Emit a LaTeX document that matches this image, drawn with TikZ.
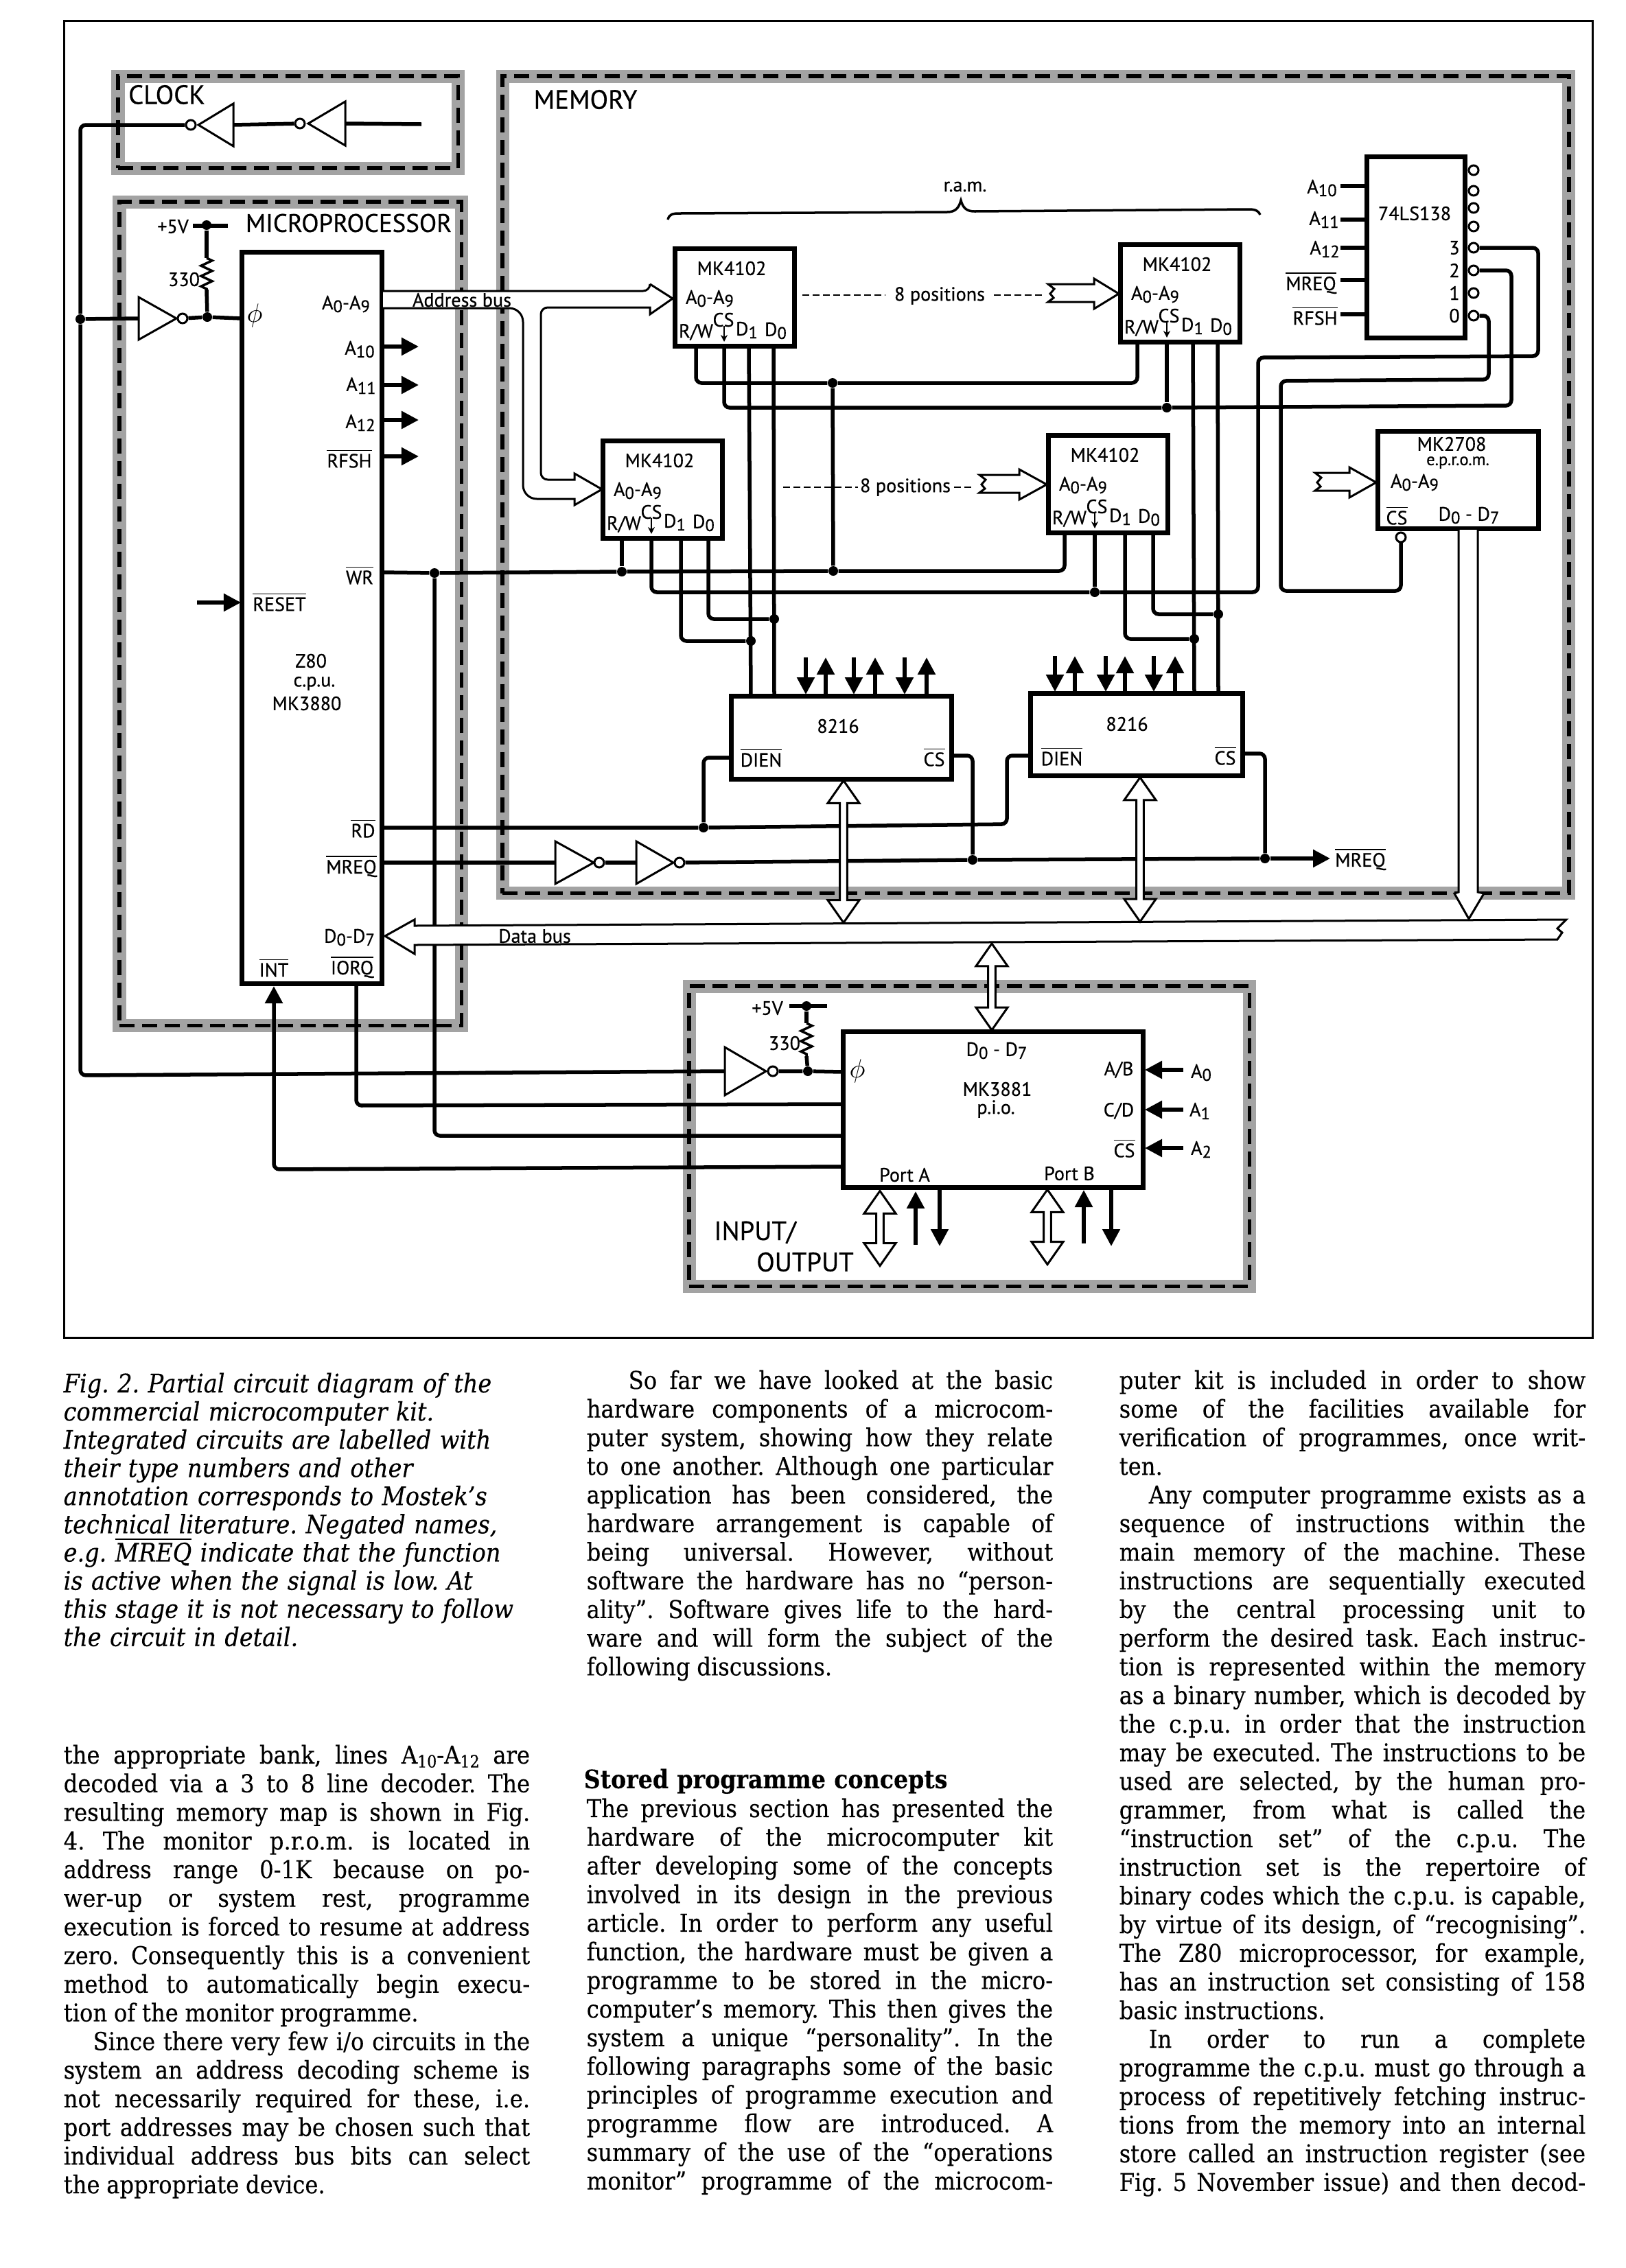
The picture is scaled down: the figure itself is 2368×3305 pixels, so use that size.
\documentclass[tikz,border=0pt]{standalone}
\usepackage{fontspec}
\setmainfont[FakeBold=0.25]{DejaVu Serif Condensed}
\setsansfont[FakeBold=0.5]{PT Sans}
\usetikzlibrary{shapes,arrows.meta,positioning,calc,decorations.pathmorphing}

\newcommand{\lo}[1]{\raisebox{-0.3ex}{\fontsize{7}{8}\selectfont #1}}
\newcommand{\nbar}[1]{$\overline{\mbox{#1}}$}
\newcommand{\jl}[1]{\hbox to 6.79cm{\spaceskip=0.27em plus 1.5em minus 0.1em\relax #1}}

\begin{document}
\begin{tikzpicture}[
  x=0.01cm, y=-0.01cm,
  region/.style={draw, outer sep=0, line width=0.055cm, dash pattern=on 0.22cm off 0.11cm,
                 preaction={draw=black!36, line width=0.19cm, solid}},
  wire/.style={line width=0.055cm, rounded corners=0.08cm},
  sig/.style={wire, -{Triangle[length=0.25cm,width=0.25cm]}},
  thin wire/.style={line width=0.03cm, rounded corners=0.08cm},
  chip/.style={rectangle, draw, outer sep=0, line width=0.07cm, fill=white, inner sep=0, anchor=north west},
  lab/.style={font=\sffamily\fontsize{8}{9}\selectfont, inner sep=0, align=center},
  big/.style={font=\sffamily\fontsize{11}{12}\selectfont, inner sep=0},
  bubble/.style={circle, draw, line width=0.03cm, fill=white, minimum size=0.14cm, inner sep=0},
  dot/.style={circle, fill, minimum size=0.14cm, inner sep=0},
  busarrow/.style={double arrow, draw, fill=white, line width=0.03cm, inner sep=0,
                   minimum width=0.46cm, double arrow head extend=0.05cm,
                   double arrow tip angle=70, shape border rotate=90},
  hollow/.style={draw, fill=white, line width=0.03cm},
  col/.style={anchor=north west, inner sep=0, text width=6.79cm,
              font=\frenchspacing\fontsize{10.2}{11.87}\selectfont},
  capt/.style={col, font=\frenchspacing\itshape\fontsize{10.6}{11.68}\selectfont}
]
  \useasboundingbox (0,0) rectangle (2368,3305);
  \node[draw, outer sep=0, line width=0.03cm, minimum width=22.26cm, minimum height=19.18cm, anchor=north west] (frame) at (93,30) {};

  % dashed regions
  \node[region, minimum width=4.95cm, minimum height=1.34cm, anchor=north west] (rclock) at (172,111) {};
  \node[region, minimum width=4.98cm, minimum height=12.0cm, anchor=north west] (rcpu) at (174,294) {};
  \node[region, minimum width=15.53cm, minimum height=11.9cm, anchor=north west] (rmem) at (732,111) {};
  \node[region, minimum width=8.16cm, minimum height=4.37cm, anchor=north west] (rio) at (1004,1437) {};

  \node[big] (tclock) at (243,138) {CLOCK};
  \node[big] (tmem) at (853,145) {MEMORY};
  \node[big, font=\sffamily\fontsize{10.5}{12}\selectfont] (tcpu) at (508,325) {MICROPROCESSOR};
  \node[big] (tin) at (1100,1796) {INPUT/};
  \node[big] (tout) at (1173,1839) {OUTPUT};

  % inverters
  \foreach \n/\bx/\tx/\y/\h/\cx in {clka/340/289/182/31/278, clkb/503/449/180/32/437,
      cpui/202/257/464/31/266, mqa/809/865/1257/31/873, mqb/927/981/1257/31/990, pioi/1056/1116/1561/35/1126} {
    \draw[thin wire, sharp corners] (\bx,\y-\h) -- (\tx,\y) -- (\bx,\y+\h) -- cycle;
    \coordinate (\n b) at (\bx,\y);
    \node[bubble] (\n) at (\cx,\y) {};
  }

  % chips
  \node[chip, minimum width=2.04cm, minimum height=10.66cm] (z80) at (352,367) {};
  \foreach \n/\x/\y/\pa/\pb/\pc/\pd in {1/983/362/31/72/108/144, 2/1632/356/25/68/106/142,
      3/878/642/28/71/114/154, 4/1527/634/24/68/112/153} {
    \node[chip, minimum width=1.74cm, minimum height=1.42cm] (ram\n) at (\x,\y) {};
    \node[lab] (ram\n name) at (\x+83,\y+29) {MK4102};
    \node[lab] (ram\n addr) at (\x+51,\y+73) {A\lo{0}-A\lo{9}};
    \node[lab] (ram\n wr) at (\x+31,\y+122) {R/W};
    \node[lab] (ram\n sel) at (\x+71,\y+104) {CS};
    \node[lab] (ram\n da) at (\x+105,\y+119) {D\lo{1}};
    \node[lab] (ram\n db) at (\x+147,\y+120) {D\lo{0}};
    \coordinate (ram\n rw) at (\x+\pa,\y+142);
    \coordinate (ram\n cs) at (\x+\pb,\y+142);
    \coordinate (ram\n do) at (\x+\pc,\y+142);
    \coordinate (ram\n dz) at (\x+\pd,\y+142);
    \draw[line width=0.025cm, -{Stealth[length=0.1cm,width=0.1cm]}] (\x+\pb,\y+113) -- (\x+\pb,\y+136);
  }
  \node[chip, minimum width=1.43cm, minimum height=2.64cm] (dec) at (1991,228) {};
  \node[chip, minimum width=2.34cm, minimum height=1.42cm] (prom) at (2007,628) {};
  \node[chip, minimum width=3.21cm, minimum height=1.21cm] (bufa) at (1065,1014) {};
  \node[chip, minimum width=3.09cm, minimum height=1.2cm] (bufb) at (1501,1010) {};
  \node[chip, minimum width=4.37cm, minimum height=2.27cm] (pio) at (1228,1503) {};

  % decoder outputs
  \foreach \n/\y in {h/248, g/278, f/303, e/330, 3/361, 2/394, 1/427, 0/460} {
    \node[bubble] (dec\n) at (2147,\y) {};
  }
  \foreach \n/\y in {3/361, 2/394, 1/427, 0/460} {
    \node[lab] (dec\n t) at (2119,\y) {\n};
  }

  % junctions
  \foreach \n/\x/\y in {jphi/117/465, jcpu/302/462, jfive/301/328, jwr/633/835, jwa/906/833, jra/1213/558, jrb/1214/832,
      jca/1700/594, jcb/1595/863, jda/1094/934, jdb/1128/902, jdc/1740/931, jdd/1775/895,
      jrd/1025/1206, jma/1417/1253, jmb/1843/1251, jpio/1177/1561, jfivb/1175/1466} {
    \node[dot] (\n) at (\x,\y) {};
  }

  % clock and phi lines
  \coordinate (clkin) at (614,181);
  \coordinate (piophi) at (1228,1562);
  \coordinate (cpuphi) at (352,464);
  \draw[wire] (clkin) -- (clkbb);
  \draw[wire] (clkb) -- (clkab);
  \draw[wire] (clka) -- (117,182) -- (jphi) -- (117,1567) -- (pioib);
  \draw[wire] (jphi) -- (cpuib);
  \draw[wire] (cpui) -- (jcpu) -- (cpuphi);
  \draw[wire] (pioi) -- (jpio) -- (piophi);

  % pull-up resistors
  \coordinate (fivea) at (281,329); \coordinate (fiveb) at (332,329);
  \coordinate (fivec) at (1150,1466); \coordinate (fived) at (1205,1466);
  \draw[wire] (fivea) -- (fiveb);
  \draw[wire] (fivec) -- (fived);
  \draw[wire] (jfive) -- (301,376);
  \draw[line width=0.035cm, decorate, decoration={zigzag, amplitude=0.08cm, segment length=0.15cm}] (301,376) -- (301,422);
  \draw[wire] (301,422) -- (jcpu);
  \draw[wire] (jfivb) -- (1175,1491);
  \draw[line width=0.035cm, decorate, decoration={zigzag, amplitude=0.08cm, segment length=0.15cm}] (1175,1491) -- (1175,1539);
  \draw[wire] (1175,1539) -- (jpio);

  % read, write and select lines
  \coordinate (cpuwr) at (556,834);
  \coordinate (piowr) at (1228,1655);
  \draw[wire] (cpuwr) -- (jwr) -- (jwa) -- (jrb) -| (ram4rw);
  \draw[wire] (jwr) |- (piowr);
  \draw[wire] (ram3rw) -- (jwa);
  \draw[wire] (jra) -- (jrb);
  \draw[wire] (ram1rw) |- (jra);
  \draw[wire] (jra) -| (ram2rw);
  \draw[wire] (ram1cs) |- (jca);
  \draw[wire] (ram2cs) -- (jca);
  \draw[wire] (jca) -- (2202,591) -- (2202,394) -- (dec2);
  \draw[wire] (ram3cs) |- (jcb);
  \draw[wire] (ram4cs) -- (jcb);
  \draw[wire] (jcb) -- (1833,863) -- (1833,521) -- (2241,519) -- (2241,361) -- (dec3);
  \draw[wire] (dec0) -- (2169,460) -- (2169,553) -- (1866,555) -- (1866,861) -- (2041,861) -- (2041,790);
  \node[bubble] (promcs) at (2041,783) {};

  % data lines
  \coordinate (bufad) at (1094,1014); \coordinate (bufaz) at (1128,1014);
  \coordinate (bufbd) at (1740,1010); \coordinate (bufbz) at (1775,1010);
  \draw[wire] (ram1do) -- (bufad);
  \draw[wire] (ram1dz) -- (bufaz);
  \draw[wire] (ram2do) -- (bufbd);
  \draw[wire] (ram2dz) -- (bufbz);
  \draw[wire] (ram3do) |- (jda);
  \draw[wire] (ram3dz) |- (jdb);
  \draw[wire] (ram4do) |- (jdc);
  \draw[wire] (ram4dz) |- (jdd);

  % buffer controls
  \coordinate (cpurd) at (556,1206); \coordinate (cpumq) at (556,1257);
  \coordinate (bufadien) at (1065,1104); \coordinate (bufbdien) at (1501,1101);
  \coordinate (bufacs) at (1386,1101); \coordinate (bufbcs) at (1810,1098);
  \coordinate (mqout) at (1938,1251);
  \draw[wire] (cpurd) -- (jrd) -- (1467,1201) -- (1467,1101) -- (bufbdien);
  \draw[wire] (jrd) |- (bufadien);
  \draw[wire] (cpumq) -- (mqab);
  \draw[wire] (mqa) -- (mqbb);
  \draw[wire] (mqb) -- (jma) -- (jmb);
  \draw[sig] (jmb) -- (mqout);
  \draw[wire] (bufacs) -| (jma);
  \draw[wire] (bufbcs) -| (jmb);

  % z80 outputs, reset and interrupt
  \foreach \n/\y in {aa/505, ab/561, ac/612, rf/665} {
    \coordinate (cpu\n) at (556,\y);
    \coordinate (out\n) at (610,\y);
    \draw[sig] (cpu\n) -- (out\n);
  }
  \coordinate (rstin) at (287,878); \coordinate (rstz) at (351,878);
  \draw[sig] (rstin) -- (rstz);
  \coordinate (intz) at (399,1437); \coordinate (pioint) at (1228,1700);
  \coordinate (iorqz) at (519,1433); \coordinate (pioiorq) at (1228,1609);
  \draw[sig, rounded corners=0.08cm] (pioint) -- (399,1704) -- (intz);
  \draw[wire] (iorqz) -- (519,1611) -- (pioiorq);

  % decoder inputs
  \foreach \n/\y in {a/271, b/320, c/361, d/408, e/458} {
    \coordinate (dec\n in) at (1953,\y);
    \coordinate (dec\n p) at (1991,\y);
    \draw[wire] (dec\n in) -- (dec\n p);
  }

  % pio address inputs and ports
  \foreach \n/\y in {a/1559, b/1617, c/1673} {
    \coordinate (pio\n in) at (1724,\y);
    \coordinate (pio\n p) at (1668,\y);
    \draw[sig] (pio\n in) -- (pio\n p);
  }
  \foreach \n/\x/\ya/\yb in {pau/1334/1814/1736, pad/1369/1732/1816, pbu/1579/1812/1734, pbd/1619/1732/1816} {
    \coordinate (\n s) at (\x,\ya); \coordinate (\n e) at (\x,\yb);
    \draw[sig] (\n s) -- (\n e);
  }

  % buffer data arrows
  \foreach \n/\x/\ya/\yb in {ua/1174/958/1012, ub/1244/958/1012, uc/1318/958/1012,
      vu/1537/956/1008, vb/1611/956/1008, vc/1681/956/1008} {
    \coordinate (\n s) at (\x,\ya); \coordinate (\n e) at (\x,\yb);
    \draw[sig] (\n s) -- (\n e);
  }
  \foreach \n/\x/\ya/\yb in {wa/1203/1012/958, wb/1275/1012/958, wc/1350/1012/958,
      xa/1566/1008/956, xb/1639/1008/956, xc/1712/1008/956} {
    \coordinate (\n s) at (\x,\ya); \coordinate (\n e) at (\x,\yb);
    \draw[sig] (\n s) -- (\n e);
  }

  % redraw the top edge of the buffers over the wires
  \draw[line width=0.07cm] (bufa.north west) -- (bufa.north east);
  \draw[line width=0.07cm] (bufb.north west) -- (bufb.north east);

  % dashes to the other ram positions
  \draw[line width=0.025cm, dash pattern=on 0.1cm off 0.05cm] (1169,430) -- (1290,430);
  \draw[line width=0.025cm, dash pattern=on 0.1cm off 0.05cm] (1448,430) -- (1518,430);
  \draw[line width=0.025cm, dash pattern=on 0.1cm off 0.05cm] (1141,710) -- (1250,710);
  \draw[line width=0.025cm, dash pattern=on 0.1cm off 0.05cm] (1390,710) -- (1420,710);
  \node[lab, fill=white, inner xsep=1pt] (posa) at (1369,431) {8 positions};
  \node[lab] (posb) at (1319,710) {8 positions};
  \foreach \x/\y/\l/\t in {1527/428/67/103, 1427/706/58/98, 1916/703/50/89} {
    \draw[hollow] (\x,\y-14) -- (\x+\l,\y-14) -- (\x+\l,\y-22) -- (\x+\t,\y) -- (\x+\l,\y+22) -- (\x+\l,\y+12)
      -- (\x,\y+12) -- (\x+8,\y+6) -- (\x+3,\y) -- (\x+9,\y-7) -- cycle;
  }

  % ram bracket
  \draw[line width=0.035cm] (973,320) .. controls (975,312) and (980,311) .. (990,311) -- (1380,309)
    .. controls (1392,309) and (1397,303) .. (1400,292) .. controls (1403,303) and (1408,308) .. (1420,308)
    -- (1820,305) .. controls (1830,305) and (1834,308) .. (1836,313);
  \node[lab] (tram) at (1406,272) {r.a.m.};

  % address bus
  \draw[hollow, rounded corners=0.1cm] (558,424) -- (947,424) [sharp corners] -- (947,414) -- (980,435) -- (947,458) -- (947,448)
    [rounded corners=0.1cm] -- (788,448) -- (788,699) [sharp corners] -- (837,699) -- (837,690) -- (877,713) -- (837,736) -- (837,727)
    [rounded corners=0.2cm] -- (762,727) -- (762,449) [sharp corners] -- (558,449);
  \node[lab] (taddr) at (673,437) {Address bus};

  % data bus
  \draw[hollow] (561,1364) -- (604,1340) -- (604,1349) -- (2282,1340) -- (2269,1353) -- (2276,1359) -- (2269,1369)
    -- (604,1377) -- (604,1390) -- cycle;
  \node[lab] (tdata) at (779,1364) {Data bus};
  \node[busarrow, minimum height=2.07cm] (busa) at (1229,1241) {};
  \node[busarrow, minimum height=2.10cm] (busb) at (1661,1238) {};
  \node[busarrow, minimum height=1.26cm] (busp) at (1445,1438) {};
  \node[busarrow, minimum height=1.09cm] (busq) at (1282,1790) {};
  \node[busarrow, minimum height=1.09cm] (busr) at (1526,1788) {};
  \draw[hollow] (2125,772) -- (2125,1300) -- (2119,1302) -- (2140,1339) -- (2162,1302) -- (2153,1300) -- (2153,772);

  % texts of the cpu
  \node[lab, font=\sffamily\fontsize{11}{12}\selectfont] (phia) at (371,460) {$\phi$};
  \node[lab] (cpua) at (504,443) {A\lo{0}-A\lo{9}};
  \node[lab] (cpub) at (524,509) {A\lo{10}};
  \node[lab] (cpuc) at (526,562) {A\lo{11}};
  \node[lab] (cpud) at (525,616) {A\lo{12}};
  \node[lab] (cpue) at (509,668) {\nbar{RFSH}};
  \node[lab] (cpuf) at (524,838) {\nbar{WR}};
  \node[lab] (cpug) at (407,877) {\nbar{RESET}};
  \node[lab] (cpuh) at (453,963) {Z80};
  \node[lab] (cpuq) at (458,996) {c.p.u.};
  \node[lab] (cpuj) at (447,1025) {MK3880};
  \node[lab] (cpuk) at (529,1207) {\nbar{RD}};
  \node[lab] (cpul) at (512,1262) {\nbar{MREQ}};
  \node[lab] (cpum) at (509,1366) {D\lo{0}-D\lo{7}};
  \node[lab] (cpun) at (399,1410) {\nbar{INT}};
  \node[lab] (cpuo) at (513,1409) {\nbar{IORQ}};
  \node[lab] (fivt) at (252,330) {+5V};
  \node[lab] (ohma) at (268,407) {330};

  % texts of decoder and prom
  \node[lab] (dect) at (2061,311) {74LS138};
  \node[lab] (deca) at (1926,274) {A\lo{10}};
  \node[lab] (decb) at (1929,320) {A\lo{11}};
  \node[lab] (decc) at (1930,363) {A\lo{12}};
  \node[lab] (decd) at (1910,412) {\nbar{MREQ}};
  \node[lab] (dece) at (1916,460) {\nbar{RFSH}};
  \node[lab] (proma) at (2115,647) {MK2708};
  \node[lab, font=\sffamily\fontsize{7}{8}\selectfont] (promb) at (2124,674) {e.p.r.o.m.};
  \node[lab] (promc) at (2061,703) {A\lo{0}-A\lo{9}};
  \node[lab] (promd) at (2035,751) {\nbar{CS}};
  \node[lab] (prome) at (2140,751) {D\lo{0} - D\lo{7}};

  % texts of buffers
  \node[lab] (bufat) at (1221,1058) {8216};
  \node[lab] (bufai) at (1109,1104) {\nbar{DIEN}};
  \node[lab] (bufac) at (1361,1103) {\nbar{CS}};
  \node[lab] (bufbt) at (1642,1055) {8216};
  \node[lab] (bufbi) at (1547,1102) {\nbar{DIEN}};
  \node[lab] (bufbc) at (1785,1101) {\nbar{CS}};
  \node[lab] (tmq) at (1982,1252) {\nbar{MREQ}};

  % texts of the pio
  \node[lab] (pioa) at (1452,1531) {D\lo{0} - D\lo{7}};
  \node[lab] (piot) at (1453,1587) {MK3881};
  \node[lab] (pioc) at (1451,1616) {p.i.o.};
  \node[lab] (piod) at (1630,1559) {A/B};
  \node[lab] (pioe) at (1630,1619) {C/D};
  \node[lab] (piof) at (1638,1673) {\nbar{CS}};
  \node[lab] (piog) at (1558,1710) {Port B};
  \node[lab] (pioh) at (1318,1712) {Port A};
  \node[lab, font=\sffamily\fontsize{11}{12}\selectfont] (phib) at (1249,1561) {$\phi$};
  \node[lab] (pioj) at (1750,1563) {A\lo{0}};
  \node[lab] (piok) at (1748,1619) {A\lo{1}};
  \node[lab] (piol) at (1750,1675) {A\lo{2}};
  \node[lab] (fivu) at (1118,1469) {+5V};
  \node[lab] (ohmb) at (1143,1520) {330};

  % the article around the figure
  \node[capt] (caption) at (92,2000) {%
    Fig. 2. Partial circuit diagram of the\\
    commercial microcomputer kit.\\
    Integrated circuits are labelled with\\
    their type numbers and other\\
    annotation corresponds to Mostek's\\
    technical literature. Negated names,\\
    e.g. \smash{\nbar{MREQ}} indicate that the function\\
    is active when the signal is low. At\\
    this stage it is not necessary to follow\\
    the circuit in detail.};
  \node[col] (colb) at (854,1996) {%
    \jl{\hspace{1.7em}So far we have looked at the basic}
    \jl{hardware components of a microcom-}
    \jl{puter system, showing how they relate}
    \jl{to one another. Although one particular}
    \jl{application has been considered, the}
    \jl{hardware arrangement is capable of}
    \jl{being universal. However, without}
    \jl{software the hardware has no “person-}
    \jl{ality”. Software gives life to the hard-}
    \jl{ware and will form the subject of the}
    \jl{following discussions.\hfil}};
  \node[col] (colc) at (1630,1996) {%
    \jl{puter kit is included in order to show}
    \jl{some of the facilities available for}
    \jl{verification of programmes, once writ-}
    \jl{ten.\hfil}
    \jl{\hspace{1.2em}Any computer programme exists as a}
    \jl{sequence of instructions within the}
    \jl{main memory of the machine. These}
    \jl{instructions are sequentially executed}
    \jl{by the central processing unit to}
    \jl{perform the desired task. Each instruc-}
    \jl{tion is represented within the memory}
    \jl{as a binary number, which is decoded by}
    \jl{the c.p.u. in order that the instruction}
    \jl{may be executed. The instructions to be}
    \jl{used are selected, by the human pro-}
    \jl{grammer, from what is called the}
    \jl{“instruction set” of the c.p.u. The}
    \jl{instruction set is the repertoire of}
    \jl{binary codes which the c.p.u. is capable,}
    \jl{by virtue of its design, of “recognising”.}
    \jl{The Z80 microprocessor, for example,}
    \jl{has an instruction set consisting of 158}
    \jl{basic instructions.\hfil}
    \jl{\hspace{1.2em}In order to run a complete}
    \jl{programme the c.p.u. must go through a}
    \jl{process of repetitively fetching instruc-}
    \jl{tions from the memory into an internal}
    \jl{store called an instruction register (see}
    \jl{Fig. 5 November issue) and then decod-}};
  \node[col] (cold) at (92,2542) {%
    \jl{the appropriate bank, lines A\lo{10}-A\lo{12} are}
    \jl{decoded via a 3 to 8 line decoder. The}
    \jl{resulting memory map is shown in Fig.}
    \jl{4. The monitor p.r.o.m. is located in}
    \jl{address range 0-1K because on po-}
    \jl{wer-up or system rest, programme}
    \jl{execution is forced to resume at address}
    \jl{zero. Consequently this is a convenient}
    \jl{method to automatically begin execu-}
    \jl{tion of the monitor programme.\hfil}
    \jl{\hspace{1.2em}Since there very few i/o circuits in the}
    \jl{system an address decoding scheme is}
    \jl{not necessarily required for these, i.e.}
    \jl{port addresses may be chosen such that}
    \jl{individual address bus bits can select}
    \jl{the appropriate device.\hfil}};
  \node[col, font=\bfseries\fontsize{10.5}{13}\selectfont] (head) at (850,2577) {Stored programme concepts};
  \node[col] (cole) at (854,2620) {%
    \jl{The previous section has presented the}
    \jl{hardware of the microcomputer kit}
    \jl{after developing some of the concepts}
    \jl{involved in its design in the previous}
    \jl{article. In order to perform any useful}
    \jl{function, the hardware must be given a}
    \jl{programme to be stored in the micro-}
    \jl{computer's memory. This then gives the}
    \jl{system a unique “personality”. In the}
    \jl{following paragraphs some of the basic}
    \jl{principles of programme execution and}
    \jl{programme flow are introduced. A}
    \jl{summary of the use of the “operations}
    \jl{monitor” programme of the microcom-}};
\end{tikzpicture}
\end{document}
